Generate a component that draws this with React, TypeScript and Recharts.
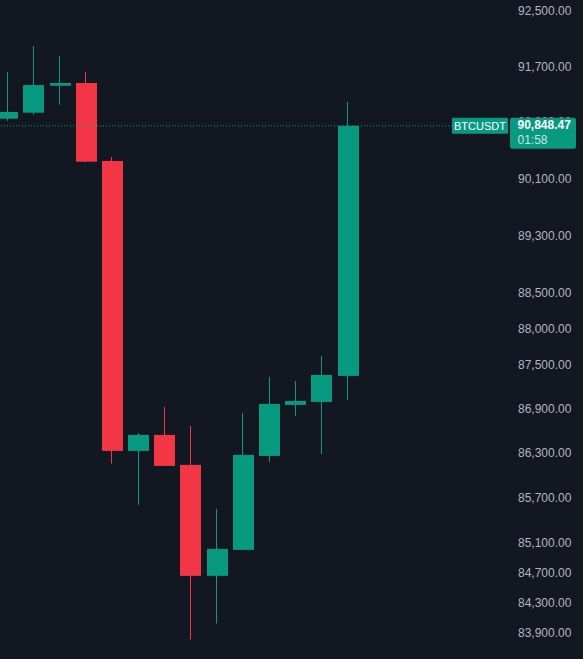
import { ComposedChart, Bar, XAxis, YAxis, ReferenceLine } from 'recharts'

// 14 candles, index 0 is partly cut off at the left edge
const candleIndex = [0, 1, 2, 3, 4, 5, 6, 7, 8, 9, 10, 11, 12, 13]
const opens = [90950, 91036, 91422, 91461, 90349, 86331, 86548, 86142, 84655, 85001, 86263, 86956, 86997, 87353]
const highs = [91619, 91994, 91849, 91619, 90405, 86575, 86929, 86670, 85549, 86847, 87339, 87284, 87627, 91190]
const lows = [90922, 91007, 91150, 90330, 86159, 85603, 86128, 83813, 84024, 85001, 86182, 86806, 86290, 87024]
const closes = [91046, 91432, 91461, 90339, 86331, 86548, 86128, 84655, 85014, 86277, 86970, 87011, 87366, 90848.47]

const priceTicks = [92500, 91700, 90900, 90100, 89300, 88500, 88000, 87500, 86900, 86300, 85700, 85100, 84700, 84300, 83900]
const priceDomain = [83558, 92660]

const symbol = 'BTCUSDT'
const lastPrice = 90848.47
const countdown = '01:58'

const BG = '#131722'
const GREEN = '#089981'
const RED = '#F23645'
const AXIS_TEXT = '#B2B5BE'
const FONT = '"Liberation Sans", Arial, sans-serif'
const CHART_H = 659

// pixels per unit of ln(price), used only to know which tick the price tag hides
const PX_PER_LN = CHART_H / Math.log(priceDomain[1] / priceDomain[0])

const data = candleIndex.map((i) => ({
  idx: i,
  open: opens[i],
  high: highs[i],
  low: lows[i],
  close: closes[i],
}))

const fmt = (v: number) =>
  v.toLocaleString('en-US', { minimumFractionDigits: 2, maximumFractionDigits: 2 })

function CandleShape(props: any) {
  const { x, y, width, height, payload } = props
  if (!payload || height == null || isNaN(y)) return null
  const { open, high, low, close } = payload
  const top = Math.min(y, y + height)
  const h = Math.abs(height)
  const span = Math.log(high) - Math.log(low)
  // log-interpolate inside the bar the axis scale drew for [low, high]
  const toY = (v: number) => top + ((Math.log(high) - Math.log(v)) / span) * h
  const color = close >= open ? GREEN : RED
  const bodyTop = toY(Math.max(open, close))
  const bodyBottom = toY(Math.min(open, close))
  const cx = x + width / 2
  return (
    <g>
      <rect x={Math.floor(cx - 0.5)} y={top} width={1} height={h} fill={color} />
      <rect
        x={Math.round(x)}
        y={bodyTop}
        width={Math.round(width)}
        height={Math.max(1, bodyBottom - bodyTop)}
        fill={color}
      />
    </g>
  )
}

function PriceTick(props: any) {
  const { x, y, payload } = props
  const tagY = y + (Math.log(payload.value) - Math.log(lastPrice)) * PX_PER_LN
  const covered = Math.abs(tagY - y) < 22
  const clipId = `tick-clip-${payload.value}`
  return (
    <g>
      {covered && (
        <defs>
          <clipPath id={clipId}>
            <rect x={x - 10} y={0} width={100} height={tagY - 8} />
          </clipPath>
        </defs>
      )}
      <text
        x={x}
        y={y}
        dy="0.355em"
        textAnchor="start"
        fontSize={12}
        fontFamily={FONT}
        fill={AXIS_TEXT}
        clipPath={covered ? `url(#${clipId})` : undefined}
      >
        {fmt(payload.value)}
      </text>
    </g>
  )
}

function PriceTag(props: any) {
  const { viewBox } = props
  if (!viewBox) return null
  const cy = viewBox.y
  const right = viewBox.x + viewBox.width
  return (
    <g style={{ fontFamily: FONT }}>
      <rect x={right - 48} y={cy - 8} width={56} height={16} rx={1} fill={GREEN} />
      <text x={right - 20} y={cy + 4} textAnchor="middle" fontSize={11} fill="#ffffff">
        {symbol}
      </text>
      <rect x={right + 10} y={cy - 8} width={66} height={31} rx={2} fill={GREEN} />
      <text x={right + 17.5} y={cy + 3.5} fontSize={12} fontWeight={700} fill="#ffffff">
        {fmt(lastPrice)}
      </text>
      <text x={right + 17.5} y={cy + 18.5} fontSize={12} fill="rgba(255,255,255,0.78)">
        {countdown}
      </text>
    </g>
  )
}

export default function App() {
  return (
    <div style={{ position: 'absolute', left: 0, top: 0, width: 583, height: CHART_H, background: BG }}>
      <ComposedChart
        width={583}
        height={CHART_H}
        data={data}
        margin={{ top: 0, right: 0, bottom: 0, left: 0 }}
        style={{ background: BG }}
      >
        <XAxis
          dataKey="idx"
          type="number"
          domain={[-0.279, 18.82]}
          ticks={candleIndex}
          allowDataOverflow
          hide
        />
        <YAxis
          orientation="right"
          scale="log"
          domain={priceDomain}
          allowDataOverflow
          ticks={priceTicks}
          interval={0}
          width={83}
          axisLine={false}
          tickLine={false}
          tickSize={0}
          tickMargin={18}
          tick={<PriceTick />}
        />
        <ReferenceLine
          y={lastPrice}
          stroke={GREEN}
          strokeDasharray="1 2"
          label={<PriceTag />}
        />
        <Bar
          dataKey={(d: any) => [d.low, d.high]}
          barSize={21}
          shape={<CandleShape />}
          isAnimationActive={false}
        />
      </ComposedChart>
    </div>
  )
}
